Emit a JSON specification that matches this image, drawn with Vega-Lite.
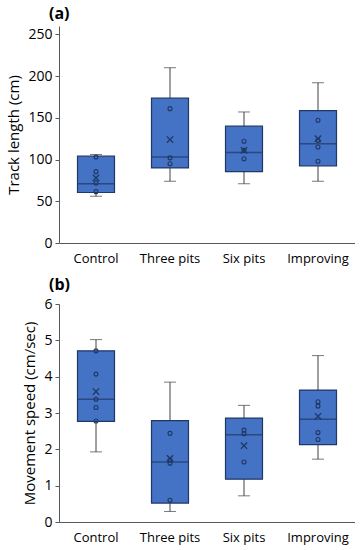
{
  "$schema": "https://vega.github.io/schema/vega-lite/v6.json",
  "padding": {"left": 6, "top": 6, "right": 0, "bottom": 5},
  "datasets": {
    "statsA": [
      {"group": "Control", "min": 56, "q1": 60.5, "median": 71, "q3": 104, "max": 106, "mean": 78},
      {"group": "Three pits", "min": 74, "q1": 90, "median": 103, "q3": 173.5, "max": 210, "mean": 124},
      {"group": "Six pits", "min": 71, "q1": 85.5, "median": 108.5, "q3": 140, "max": 157, "mean": 111},
      {"group": "Improving", "min": 74, "q1": 92.5, "median": 119, "q3": 158.5, "max": 192, "mean": 125}
    ],
    "pointsA": [
      {"group": "Control", "value": 103},
      {"group": "Control", "value": 85.5},
      {"group": "Control", "value": 72},
      {"group": "Control", "value": 61.5},
      {"group": "Three pits", "value": 161},
      {"group": "Three pits", "value": 102},
      {"group": "Three pits", "value": 95},
      {"group": "Six pits", "value": 122},
      {"group": "Six pits", "value": 111},
      {"group": "Six pits", "value": 101},
      {"group": "Improving", "value": 147},
      {"group": "Improving", "value": 123},
      {"group": "Improving", "value": 115},
      {"group": "Improving", "value": 98}
    ],
    "statsB": [
      {"group": "Control", "min": 1.93, "q1": 2.77, "median": 3.38, "q3": 4.71, "max": 5.02, "mean": 3.59},
      {"group": "Three pits", "min": 0.29, "q1": 0.52, "median": 1.65, "q3": 2.79, "max": 3.85, "mean": 1.75},
      {"group": "Six pits", "min": 0.72, "q1": 1.18, "median": 2.4, "q3": 2.86, "max": 3.21, "mean": 2.1},
      {"group": "Improving", "min": 1.73, "q1": 2.13, "median": 2.83, "q3": 3.63, "max": 4.58, "mean": 2.91}
    ],
    "pointsB": [
      {"group": "Control", "value": 4.71},
      {"group": "Control", "value": 4.07},
      {"group": "Control", "value": 3.38},
      {"group": "Control", "value": 3.15},
      {"group": "Control", "value": 2.78},
      {"group": "Three pits", "value": 2.44},
      {"group": "Three pits", "value": 1.7},
      {"group": "Three pits", "value": 1.62},
      {"group": "Three pits", "value": 0.6},
      {"group": "Six pits", "value": 2.53},
      {"group": "Six pits", "value": 2.43},
      {"group": "Six pits", "value": 1.65},
      {"group": "Improving", "value": 3.31},
      {"group": "Improving", "value": 3.19},
      {"group": "Improving", "value": 2.46},
      {"group": "Improving", "value": 2.27}
    ]
  },
  "config": {
    "view": {"stroke": null},
    "font": "Open Sans",
    "axis": {
      "grid": false,
      "labelFont": "Open Sans",
      "titleFont": "Open Sans",
      "labelColor": "#000000",
      "titleColor": "#000000",
      "titleFontWeight": "normal",
      "domainColor": "#595959",
      "tickColor": "#595959"
    },
    "axisY": {"titleFontSize": 15, "labelFontSize": 14, "tickSize": 4, "labelPadding": 3, "titlePadding": 6, "labelOverlap": false},
    "title": {"anchor": "start", "frame": "group", "fontSize": 16, "fontWeight": "bold", "font": "Open Sans", "dx": -10, "offset": 4, "color": "#000000"}
  },
  "spacing": 12,
  "vconcat": [
    {
      "title": "(a)",
      "width": 296,
      "height": 217,
      "encoding": {
        "x": {
          "field": "group", "type": "nominal",
          "sort": ["Control", "Three pits", "Six pits", "Improving"],
          "scale": {"paddingInner": 0.5, "paddingOuter": 0.25},
          "axis": {"title": null, "labelAngle": 0, "ticks": false, "labelFontSize": 13, "labelPadding": 9}
        }
      },
      "layer": [
        {
          "data": {"name": "statsA"},
          "mark": {"type": "rule", "color": "#404040", "strokeWidth": 1},
          "encoding": {
            "y": {"field": "min", "type": "quantitative", "scale": {"domain": [0, 250]}, "axis": {"title": "Track length (cm)", "values": [0, 50, 100, 150, 200, 250]}},
            "y2": {"field": "max"}
          }
        },
        {
          "data": {"name": "statsA"},
          "mark": {"type": "tick", "size": 12, "thickness": 1, "color": "#404040", "orient": "horizontal"},
          "encoding": {"y": {"field": "max", "type": "quantitative", "axis": {"title": "Track length (cm)", "values": [0, 50, 100, 150, 200, 250]}}}
        },
        {
          "data": {"name": "statsA"},
          "mark": {"type": "tick", "size": 12, "thickness": 1, "color": "#404040", "orient": "horizontal"},
          "encoding": {"y": {"field": "min", "type": "quantitative", "axis": {"title": "Track length (cm)", "values": [0, 50, 100, 150, 200, 250]}}}
        },
        {
          "data": {"name": "statsA"},
          "mark": {"type": "bar", "color": "#4472C4", "stroke": "#1F3864", "strokeWidth": 1.2},
          "encoding": {"y": {"field": "q1", "type": "quantitative", "axis": {"title": "Track length (cm)", "values": [0, 50, 100, 150, 200, 250]}}, "y2": {"field": "q3"}}
        },
        {
          "data": {"name": "statsA"},
          "mark": {"type": "tick", "size": 37, "thickness": 1.5, "color": "#1F3864", "orient": "horizontal"},
          "encoding": {"y": {"field": "median", "type": "quantitative", "axis": {"title": "Track length (cm)", "values": [0, 50, 100, 150, 200, 250]}}}
        },
        {
          "data": {"name": "pointsA"},
          "mark": {"type": "point", "shape": "circle", "size": 16, "filled": false, "stroke": "#1F3864", "strokeWidth": 1.1, "opacity": 1},
          "encoding": {"y": {"field": "value", "type": "quantitative", "axis": {"title": "Track length (cm)", "values": [0, 50, 100, 150, 200, 250]}}}
        },
        {
          "data": {"name": "statsA"},
          "mark": {"type": "point", "shape": "M-1,-1L1,1M-1,1L1,-1", "size": 40, "filled": false, "stroke": "#1F3864", "strokeWidth": 1.3, "opacity": 1},
          "encoding": {"y": {"field": "mean", "type": "quantitative", "axis": {"title": "Track length (cm)", "values": [0, 50, 100, 150, 200, 250]}}}
        }
      ]
    },
    {
      "title": "(b)",
      "width": 296,
      "height": 218,
      "encoding": {
        "x": {
          "field": "group", "type": "nominal",
          "sort": ["Control", "Three pits", "Six pits", "Improving"],
          "scale": {"paddingInner": 0.5, "paddingOuter": 0.25},
          "axis": {"title": null, "labelAngle": 0, "ticks": false, "labelFontSize": 13, "labelPadding": 9}
        }
      },
      "layer": [
        {
          "data": {"name": "statsB"},
          "mark": {"type": "rule", "color": "#404040", "strokeWidth": 1},
          "encoding": {
            "y": {"field": "min", "type": "quantitative", "scale": {"domain": [0, 6]}, "axis": {"title": "Movement speed (cm/sec)", "values": [0, 1, 2, 3, 4, 5, 6]}},
            "y2": {"field": "max"}
          }
        },
        {
          "data": {"name": "statsB"},
          "mark": {"type": "tick", "size": 12, "thickness": 1, "color": "#404040", "orient": "horizontal"},
          "encoding": {"y": {"field": "max", "type": "quantitative", "axis": {"title": "Movement speed (cm/sec)", "values": [0, 1, 2, 3, 4, 5, 6]}}}
        },
        {
          "data": {"name": "statsB"},
          "mark": {"type": "tick", "size": 12, "thickness": 1, "color": "#404040", "orient": "horizontal"},
          "encoding": {"y": {"field": "min", "type": "quantitative", "axis": {"title": "Movement speed (cm/sec)", "values": [0, 1, 2, 3, 4, 5, 6]}}}
        },
        {
          "data": {"name": "statsB"},
          "mark": {"type": "bar", "color": "#4472C4", "stroke": "#1F3864", "strokeWidth": 1.2},
          "encoding": {"y": {"field": "q1", "type": "quantitative", "axis": {"title": "Movement speed (cm/sec)", "values": [0, 1, 2, 3, 4, 5, 6]}}, "y2": {"field": "q3"}}
        },
        {
          "data": {"name": "statsB"},
          "mark": {"type": "tick", "size": 37, "thickness": 1.5, "color": "#1F3864", "orient": "horizontal"},
          "encoding": {"y": {"field": "median", "type": "quantitative", "axis": {"title": "Movement speed (cm/sec)", "values": [0, 1, 2, 3, 4, 5, 6]}}}
        },
        {
          "data": {"name": "pointsB"},
          "mark": {"type": "point", "shape": "circle", "size": 16, "filled": false, "stroke": "#1F3864", "strokeWidth": 1.1, "opacity": 1},
          "encoding": {"y": {"field": "value", "type": "quantitative", "axis": {"title": "Movement speed (cm/sec)", "values": [0, 1, 2, 3, 4, 5, 6]}}}
        },
        {
          "data": {"name": "statsB"},
          "mark": {"type": "point", "shape": "M-1,-1L1,1M-1,1L1,-1", "size": 40, "filled": false, "stroke": "#1F3864", "strokeWidth": 1.3, "opacity": 1},
          "encoding": {"y": {"field": "mean", "type": "quantitative", "axis": {"title": "Movement speed (cm/sec)", "values": [0, 1, 2, 3, 4, 5, 6]}}}
        }
      ]
    }
  ]
}
